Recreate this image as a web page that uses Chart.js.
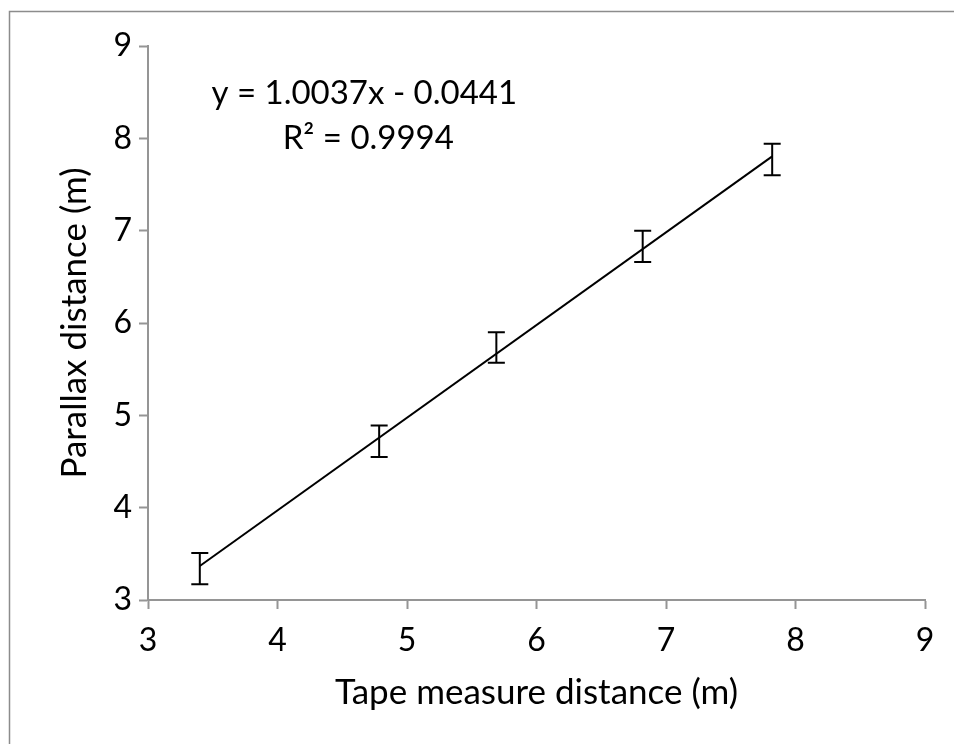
<!DOCTYPE html>
<html>
<head>
<meta charset="utf-8">
<script src="https://cdn.jsdelivr.net/npm/chart.js@4.4.0/dist/chart.umd.min.js"></script>
<style>
html,body{margin:0;padding:0;background:#fff;}
canvas{display:block;}
</style>
</head>
<body>
<canvas id="c" width="954" height="744"></canvas>
<script>
// Data
const tapeDistance = [3.40, 4.785, 5.69, 6.82, 7.82];
const parallaxDistance = [3.34, 4.72, 5.735, 6.83, 7.77];
const errorSize = [0.17, 0.17, 0.165, 0.17, 0.17];
const slope = 1.0037;
const intercept = -0.0441;
const rSquared = 0.9994;
const axisTicks = [3, 4, 5, 6, 7, 8, 9];

const FONT = 'Lato, Calibri, "Open Sans", sans-serif';
const AXIS_GREY = '#959595';

const points = tapeDistance.map((x, i) => ({x: x, y: parallaxDistance[i], e: errorSize[i]}));
const xMin = Math.min(...tapeDistance), xMax = Math.max(...tapeDistance);
const trend = [xMin, xMax].map(x => ({x: x, y: slope * x + intercept}));

const bgAndBorder = {
  id: 'bgAndBorder',
  beforeDraw(chart) {
    const ctx = chart.ctx;
    ctx.save();
    ctx.fillStyle = '#fff';
    ctx.fillRect(0, 0, chart.width, chart.height);
    ctx.strokeStyle = '#8c8c8c';
    ctx.lineWidth = 1.5;
    ctx.strokeRect(9.5, 11.5, chart.width + 20, chart.height + 20);
    ctx.restore();
  }
};

const errorBars = {
  id: 'errorBars',
  afterDatasetsDraw(chart) {
    const ctx = chart.ctx;
    const xs = chart.scales.x, ys = chart.scales.y;
    ctx.save();
    ctx.strokeStyle = '#000';
    ctx.lineWidth = 2;
    points.forEach(p => {
      const px = xs.getPixelForValue(p.x);
      const top = ys.getPixelForValue(p.y + p.e);
      const bot = ys.getPixelForValue(p.y - p.e);
      const cap = 8.5;
      ctx.beginPath();
      ctx.moveTo(px, top); ctx.lineTo(px, bot);
      ctx.moveTo(px - cap, top); ctx.lineTo(px + cap, top);
      ctx.moveTo(px - cap, bot); ctx.lineTo(px + cap, bot);
      ctx.stroke();
    });
    ctx.restore();
  }
};

const equationLabel = {
  id: 'equationLabel',
  afterDraw(chart) {
    const ctx = chart.ctx;
    const xs = chart.scales.x, ys = chart.scales.y;
    ctx.save();
    ctx.fillStyle = '#000';
    ctx.font = '33px ' + FONT;
    ctx.textAlign = 'center';
    ctx.textBaseline = 'middle';
    const cx = xs.getPixelForValue(4.67);
    ctx.fillText('y = ' + slope.toFixed(4) + 'x - ' + Math.abs(intercept).toFixed(4), cx, ys.getPixelForValue(8.49));
    ctx.fillText('R² = ' + rSquared.toFixed(4), cx + 4, ys.getPixelForValue(8.0));
    ctx.restore();
  }
};

function axisCommon(title, titlePadding, tickPad) {
  return {
    type: 'linear',
    min: 3, max: 9,
    afterBuildTicks(scale) { scale.ticks = axisTicks.map(v => ({value: v})); },
    ticks: {
      stepSize: 1,
      color: '#000',
      font: {family: FONT, size: 32},
      padding: tickPad
    },
    grid: {
      display: true,
      drawOnChartArea: false,
      drawTicks: true,
      tickLength: 9,
      tickWidth: 2,
      tickColor: AXIS_GREY,
      color: AXIS_GREY
    },
    border: {display: true, color: AXIS_GREY, width: 2},
    title: {
      display: true,
      text: title,
      color: '#000',
      font: {family: FONT, size: 35},
      padding: titlePadding
    }
  };
}

const xAxis = axisCommon('Tape measure distance (m)', {top: 0, bottom: 30}, 12);
xAxis.position = 'bottom';
xAxis.afterFit = s => { s.height = 144; };
const yAxis = axisCommon('Parallax distance (m)', {top: 44, bottom: 0}, 7);
yAxis.position = 'left';
yAxis.afterFit = s => { s.width = 138; };

new Chart(document.getElementById('c'), {
  type: 'scatter',
  data: {
    datasets: [
      {
        label: 'Measurements',
        data: points,
        pointRadius: 0,
        pointHoverRadius: 0,
        showLine: false
      },
      {
        label: 'Linear fit',
        data: trend,
        showLine: true,
        borderColor: '#000',
        borderWidth: 2,
        pointRadius: 0,
        fill: false
      }
    ]
  },
  options: {
    responsive: false,
    devicePixelRatio: 1,
    animation: false,
    layout: {padding: {left: 10, top: 46, right: 29, bottom: 0}},
    plugins: {legend: {display: false}, tooltip: {enabled: false}},
    scales: {x: xAxis, y: yAxis}
  },
  plugins: [bgAndBorder, errorBars, equationLabel]
});
</script>
</body>
</html>
